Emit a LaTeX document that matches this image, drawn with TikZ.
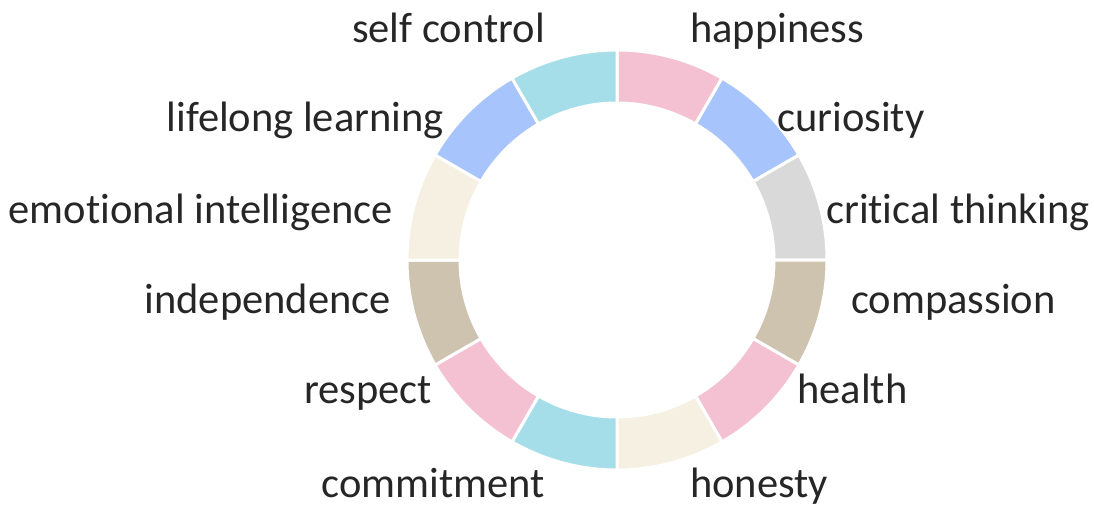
\documentclass[tikz,border=0pt]{standalone}
\usepackage{fontspec}
\setmainfont{Carlito}[RawFeature={-liga;-dlig}]
\definecolor{segpink}{HTML}{F4C1D3}
\definecolor{segblue}{HTML}{A8C4FC}
\definecolor{seggray}{HTML}{D9D9D9}
\definecolor{segtan}{HTML}{CEC3AF}
\definecolor{segcream}{HTML}{F5F0E1}
\definecolor{segcyan}{HTML}{A5DEE9}
\definecolor{labeltext}{HTML}{262626}
\begin{document}
\begin{tikzpicture}[x=1pt,y=1pt,
  seg/.style={fill=#1, draw=white, line width=3pt, line join=miter},
  lbl/.style={inner sep=0pt, text=labeltext, font=\fontsize{42.5}{50}\selectfont},
  lblR/.style={lbl, anchor=base west},
  lblL/.style={lbl, anchor=base east}]
\useasboundingbox (0,0) rectangle (1094,504);
% ring of twelve 30-degree segments, clockwise from the top
\begin{scope}[shift={(617,244)}]
  \def\Ro{210}\def\Ri{157}
  \foreach \a/\c in {90/segpink,60/segblue,30/seggray,0/segtan,-30/segpink,-60/segcream,
                     -90/segcyan,-120/segpink,-150/segtan,-180/segcream,-210/segblue,-240/segcyan}{
    \pgfmathsetmacro{\b}{\a-30}
    \filldraw[seg=\c] (\a:\Ro) arc[start angle=\a, end angle=\b, radius=\Ro]
      -- (\b:\Ri) arc[start angle=\b, end angle=\a, radius=\Ri] -- cycle;
  }
\end{scope}
% labels, right half
\node[lblR] (happiness) at (690,504-43) {happiness};
\node[lblR] (curiosity) at (777,504-132) {curiosity};
\node[lblR] (critical) at (826,504-224) {critical thinking};
\node[lblR] (compassion) at (851,504-313) {compassion};
\node[lblR] (health) at (797,504-403) {health};
\node[lblR] (honesty) at (690,504-497) {honesty};
% labels, left half
\node[lblL] (selfcontrol) at (545,504-43) {self control};
\node[lblL] (lifelong) at (444,504-132) {lifelong learning};
\node[lblL] (emotional) at (393,504-224) {emotional intelligence};
\node[lblL] (independence) at (391,504-313) {independence};
\node[lblL] (respect) at (432,504-403) {respect};
\node[lblL] (commitment) at (545,504-497) {commitment};
\end{tikzpicture}
\end{document}
